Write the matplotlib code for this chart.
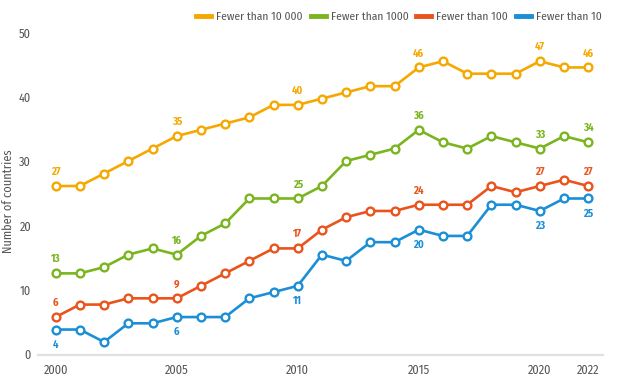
import matplotlib
matplotlib.use("Agg")
import matplotlib.pyplot as plt
from matplotlib import font_manager

years = list(range(2000, 2023))
fewer_10000 = [27, 27, 29, 31, 33, 35, 36, 37, 38, 40, 40, 41, 42, 43, 43, 46, 47, 45, 45, 45, 47, 46, 46]
fewer_1000 = [13, 13, 14, 16, 17, 16, 19, 21, 25, 25, 25, 27, 31, 32, 33, 36, 34, 33, 35, 34, 33, 35, 34]
fewer_100 = [6, 8, 8, 9, 9, 9, 11, 13, 15, 17, 17, 20, 22, 23, 23, 24, 24, 24, 27, 26, 27, 28, 27]
fewer_10 = [4, 4, 2, 5, 5, 6, 6, 6, 9, 10, 11, 16, 15, 18, 18, 20, 19, 19, 24, 24, 23, 25, 25]
series_names = ["Fewer than 10 000", "Fewer than 1000", "Fewer than 100", "Fewer than 10"]
label_years = [2000, 2005, 2010, 2015, 2020, 2022]
x_ticks = [2000, 2005, 2010, 2015, 2020, 2022]
y_ticks = [0, 10, 20, 30, 40, 50]
y_title = "Number of countries"

colors = ["#F5A800", "#7AB51F", "#EA531C", "#1B8FD6"]

names = {f.name for f in font_manager.fontManager.ttflist}
family = [f for f in ["Fira Sans Condensed", "Roboto Condensed", "DejaVu Sans"] if f in names]
plt.rcParams["font.family"] = family

fig = plt.figure(figsize=(6.24, 3.84), dpi=100)
ax = fig.add_axes([38 / 624, (384 - 354.5) / 384, 565 / 624, (354.5 - 30) / 384])

all_series = [fewer_10000, fewer_1000, fewer_100, fewer_10]
for name, vals, c in zip(series_names, all_series, colors):
    ax.plot(years, vals, color=c, lw=1.9, marker="o", ms=5.6, mfc="white",
            mec=c, mew=1.7, label=name, zorder=3)

for idx, (vals, c) in enumerate(zip(all_series, colors)):
    below = idx == 3
    for yr in label_years:
        v = vals[years.index(yr)]
        ax.annotate(str(v), (yr, v), xytext=(0, -15 if below else 14),
                    textcoords="offset pixels", ha="center", va="center",
                    color=c, fontsize=7.7, fontweight="bold")

ax.set_xlim(1999.27, 2022.61)
ax.set_ylim(0, 52)
stretch = 1.031
ax.set_yticks([t * stretch for t in y_ticks])
ax.set_yticklabels([str(t) for t in y_ticks])
ax.set_xticks(x_ticks)
ax.set_xticklabels([str(t) for t in x_ticks])
ax.tick_params(axis="both", length=0, labelsize=8.8, labelcolor="#555555")
ax.tick_params(axis="x", pad=7)
ax.tick_params(axis="y", pad=5)
for s in ["top", "right", "left"]:
    ax.spines[s].set_visible(False)
ax.spines["bottom"].set_color("#E0E0E0")
ax.spines["bottom"].set_linewidth(1.6)

fig.text(8 / 624, 1 - 201 / 384, y_title, rotation=90, ha="center", va="center",
         fontsize=8.8, color="#555555")

leg = fig.legend(loc="center", bbox_to_anchor=(399 / 624, 1 - 17 / 384), ncol=4,
                 frameon=False, handlelength=1.3, handletextpad=0.43, columnspacing=0.7,
                 fontsize=8.3)
for h in leg.get_lines():
    h.set_marker("")
    h.set_linewidth(3.5)
for t in leg.get_texts():
    t.set_color("#555555")

fig.savefig("out.png", dpi=100)
